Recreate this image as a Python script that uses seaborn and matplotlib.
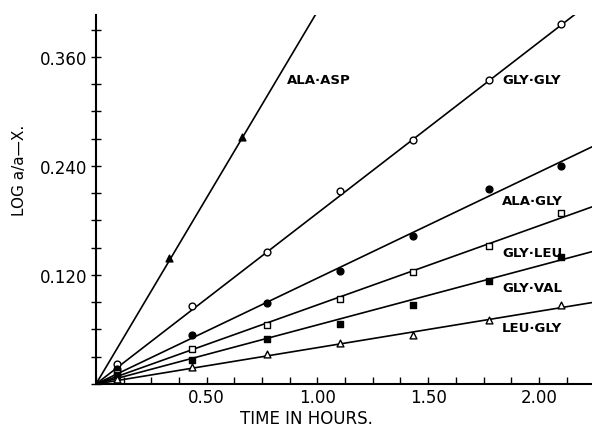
import matplotlib
matplotlib.use("Agg")
import matplotlib.pyplot as plt
import seaborn as sns
import numpy as np
import pandas as pd
from matplotlib.ticker import MultipleLocator, FixedLocator

sns.set_style("white")
plt.rcParams['font.family'] = ['DejaVu Sans']
plt.rcParams['text.color'] = 'black'
plt.rcParams['xtick.color'] = 'black'
plt.rcParams['ytick.color'] = 'black'

# ---- data ----
series_names = ["ALA·ASP", "GLY·GLY", "ALA·GLY", "GLY·LEU", "GLY·VAL", "LEU·GLY"]
slopes = [0.41, 0.188, 0.1165, 0.087, 0.065, 0.040]

ala_asp_t = [0.33, 0.66]
ala_asp_y = [0.139, 0.272]

times = [0.095, 0.433, 0.77, 1.10, 1.43, 1.775, 2.10]
gly_gly_y = [0.022, 0.086, 0.145, 0.212, 0.268, 0.335, 0.396]
ala_gly_y = [0.017, 0.054, 0.089, 0.124, 0.163, 0.215, 0.240]
gly_leu_y = [0.012, 0.0385, 0.065, 0.0936, 0.123, 0.152, 0.188]
gly_val_y = [0.010, 0.026, 0.0495, 0.066, 0.087, 0.113, 0.140]
leu_gly_y = [0.006, 0.0187, 0.033, 0.045, 0.054, 0.0705, 0.087]

label_x = [0.862, 1.833, 1.833, 1.833, 1.833, 1.833]
label_y = [0.335, 0.335, 0.2015, 0.145, 0.1057, 0.0627]

x_ticks = [0.50, 1.00, 1.50, 2.00]
x_ticklabels = ["0.50", "1.00", "1.50", "2.00"]
y_ticks = [0.120, 0.240, 0.360]
y_ticklabels = ["0.120", "0.240", "0.360"]

# ---- styles ----
markers = ["^", "o", "o", "s", "s", "^"]
faces = ["black", "white", "black", "white", "black", "white"]

xs_list = [ala_asp_t, times, times, times, times, times]
ys_list = [ala_asp_y, gly_gly_y, ala_gly_y, gly_leu_y, gly_val_y, leu_gly_y]

XMAX, YMAX = 2.24, 0.406

fig = plt.figure(figsize=(5.92, 4.27), dpi=100)
ax = fig.add_axes([96/592, 1 - 385/427, (592 - 96)/592, (385 - 16)/427])

for name, s, xs, ys, m, fc, lx, ly in zip(series_names, slopes, xs_list, ys_list,
                                           markers, faces, label_x, label_y):
    xend = min(XMAX, 0.415 / s)
    ax.plot([0, xend], [0, s * xend], color="black", lw=1.2, zorder=2, clip_on=True)
    df = pd.DataFrame({"t": xs, "v": ys})
    sns.scatterplot(data=df, x="t", y="v", marker=m, s=24, color=fc,
                    edgecolor="black", linewidth=1.0, ax=ax, zorder=3)
    ax.text(lx, ly, name, fontsize=9.5, fontweight="bold", ha="left", va="center")

ax.set_xlim(0, XMAX)
ax.set_ylim(0, YMAX)
ax.xaxis.set_major_locator(FixedLocator(x_ticks))
ax.set_xticklabels(x_ticklabels, fontsize=12)
ax.xaxis.set_minor_locator(MultipleLocator(0.125))
ax.yaxis.set_major_locator(FixedLocator(y_ticks))
ax.set_yticklabels(y_ticklabels, fontsize=12)
ax.yaxis.set_minor_locator(MultipleLocator(0.03))
ax.tick_params(axis="x", which="both", direction="in", length=5, width=1, bottom=True, pad=3)
ax.tick_params(axis="y", which="both", direction="inout", length=7, width=1, left=True, pad=3)

for sp in ["top", "right"]:
    ax.spines[sp].set_visible(False)
for sp in ["left", "bottom"]:
    ax.spines[sp].set_color("black")
    ax.spines[sp].set_linewidth(1.5)

ax.set_xlabel("")
ax.set_ylabel("")
fig.text(306/592, 1 - 419/427, "TIME IN HOURS.", fontsize=12, ha="center", va="center")
fig.text(20/592, 1 - 170/427, "LOG a/a\u2014X.", fontsize=11, rotation=90,
         ha="center", va="center")

fig.savefig("out.png", dpi=100)
